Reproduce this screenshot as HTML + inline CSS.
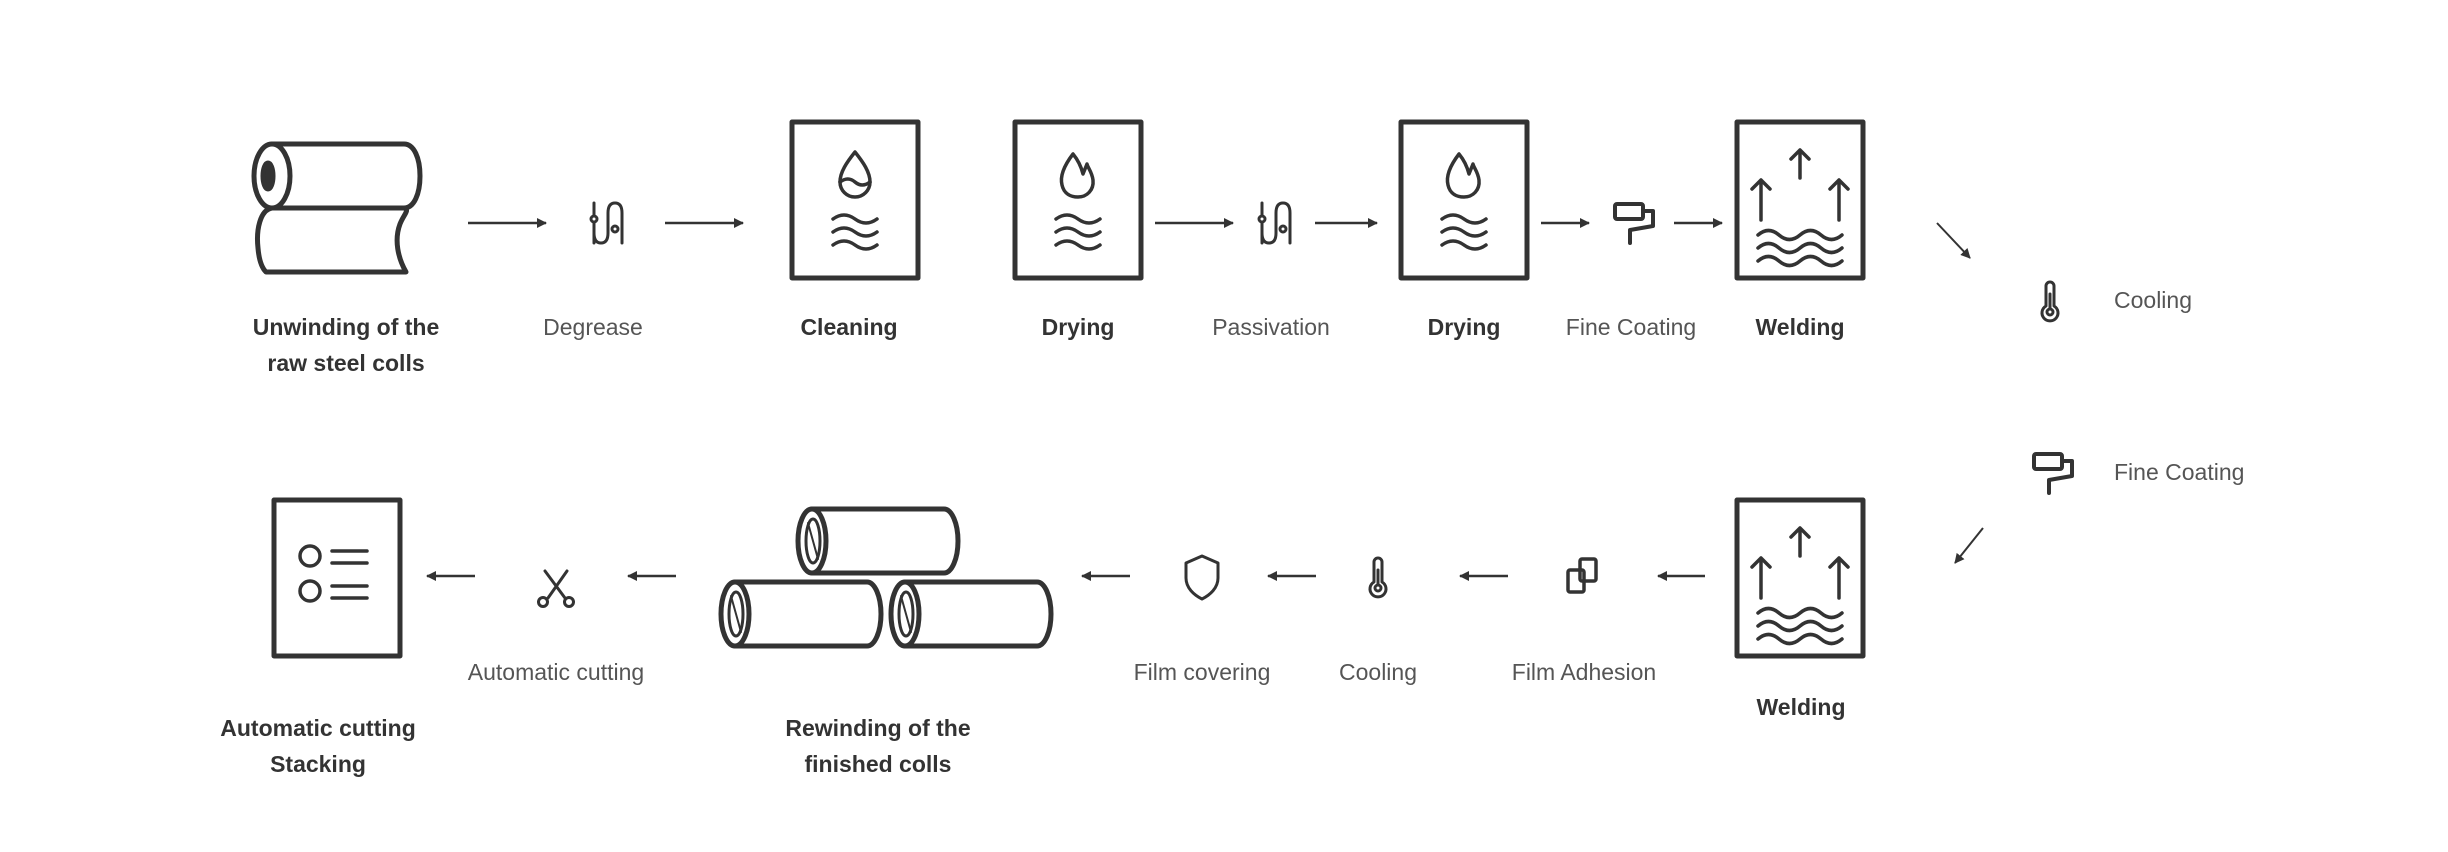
<!DOCTYPE html>
<html><head><meta charset="utf-8"><style>
html,body{margin:0;padding:0;background:#fff;}
svg{display:block;}
text{font-family:"Liberation Sans",sans-serif;font-size:23px;fill:#3a3a3a;text-anchor:middle;}
.b{font-weight:bold;fill:#333;}
.l{fill:#555;}
.s{stroke:#333;fill:none;stroke-linecap:round;stroke-linejoin:round;}
</style></head><body>
<svg width="2448" height="852" viewBox="0 0 2448 852" xmlns="http://www.w3.org/2000/svg">
<defs>
<marker id="ah" markerWidth="10" markerHeight="10" refX="9" refY="5" orient="auto" markerUnits="userSpaceOnUse">
<path d="M0,0 L10,5 L0,10 Z" fill="#333"/></marker>
<g id="waves3" class="s" stroke-width="3.5">
<path d="M-22,0 q11,-8 22,0 t22,0"/><path d="M-22,13 q11,-8 22,0 t22,0"/><path d="M-22,26 q11,-8 22,0 t22,0"/>
</g>
<g id="weld">
<rect x="0" y="0" width="126" height="156" class="s" stroke-width="5"/>
<g class="s" stroke-width="3.5">
<path d="M63,56 V28 M54,37 L63,28 L72,37"/>
<path d="M24,98 V58 M15,67 L24,58 L33,67"/>
<path d="M102,98 V58 M93,67 L102,58 L111,67"/>
<path d="M21,113 q10.5,-9 21,0 t21,0 t21,0 t21,0"/>
<path d="M21,126 q10.5,-9 21,0 t21,0 t21,0 t21,0"/>
<path d="M21,139 q10.5,-9 21,0 t21,0 t21,0 t21,0"/>
</g></g>
<g id="dry">
<rect x="0" y="0" width="126" height="156" class="s" stroke-width="5"/>
<path class="s" stroke-width="3.5" d="M58,32 C48,45 45,55 47,63 C49,72 56,75 63,75 C72,75 79,68 78,58 C77,50 73,46 72,42 L68,52 C66,44 63,38 58,32 Z"/>
<use href="#waves3" x="63" y="97"/>
</g>
<g id="therm" class="s" stroke-width="3">
<path d="M-4,-14 a4,4 0 0 1 8,0 V6 a8,8 0 1 1 -8,0 Z"/><circle cx="0" cy="12" r="3"/><path d="M0,-6 V9"/>
</g>
<g id="roller" class="s" stroke-width="4">
<rect x="-18" y="-19" width="28" height="15" rx="2"/>
<path d="M10,-12 H20 V3 L-3,7 V20"/>
</g>
<g id="pipe" class="s" stroke-width="3">
<path d="M-9,-20 V20"/><circle cx="-9" cy="-4" r="3" fill="#fff"/>
<path d="M-9,10 q0,10 7,10 q7,0 7,-10 V-10 q0,-10 7,-10 q7,0 7,10 V20"/>
<circle cx="12" cy="6" r="3" fill="#fff"/>
</g>
<g id="cyl" class="s" stroke-width="5">
<path d="M16,2 H148 A14,32 0 0 1 148,66 H16"/>
<ellipse cx="16" cy="34" rx="14" ry="32"/>
<ellipse cx="17" cy="34" rx="7" ry="22" stroke-width="3"/>
<path d="M12,16 L22,52" stroke-width="2"/>
</g>
</defs>

<g class="s" stroke-width="5">
<path d="M272,144 H404 C414,144 420,158 420,176 C420,194 414,208 404,208 H272"/>
<ellipse cx="272" cy="176" rx="18" ry="32"/>
<ellipse cx="268" cy="176" rx="5" ry="13" fill="#333"/>
<path d="M272,208 C260,210 256,230 258,248 C259,260 262,268 266,272 H406 C398,258 394,240 400,224 C404,214 410,210 404,208"/>
</g>
<line x1="468" y1="223" x2="546" y2="223" stroke="#333" stroke-width="2.5" marker-end="url(#ah)"/>
<use href="#pipe" x="603" y="223"/>
<line x1="665" y1="223" x2="743" y2="223" stroke="#333" stroke-width="2.5" marker-end="url(#ah)"/>
<g transform="translate(792,122)">
<rect x="0" y="0" width="126" height="156" class="s" stroke-width="5"/>
<path class="s" stroke-width="3.5" d="M63,30 C55,40 48,50 48,60 A15,15 0 0 0 78,60 C78,50 71,40 63,30 Z"/>
<path class="s" stroke-width="3.5" d="M48,60 q8,-6 15,0 t15,0"/>
<use href="#waves3" x="63" y="97"/>
</g>
<use href="#dry" x="1015" y="122"/>
<line x1="1155" y1="223" x2="1233" y2="223" stroke="#333" stroke-width="2.5" marker-end="url(#ah)"/>
<use href="#pipe" x="1271" y="223"/>
<line x1="1315" y1="223" x2="1377" y2="223" stroke="#333" stroke-width="2.5" marker-end="url(#ah)"/>
<use href="#dry" x="1401" y="122"/>
<line x1="1541" y1="223" x2="1589" y2="223" stroke="#333" stroke-width="2.5" marker-end="url(#ah)"/>
<use href="#roller" x="1633" y="223"/>
<line x1="1674" y1="223" x2="1722" y2="223" stroke="#333" stroke-width="2.5" marker-end="url(#ah)"/>
<use href="#weld" x="1737" y="122"/>

<text x="346" y="335" class="b">Unwinding of the</text>
<text x="346" y="371" class="b">raw steel colls</text>
<text x="593" y="335" class="l">Degrease</text>
<text x="849" y="335" class="b">Cleaning</text>
<text x="1078" y="335" class="b">Drying</text>
<text x="1271" y="335" class="l">Passivation</text>
<text x="1464" y="335" class="b">Drying</text>
<text x="1631" y="335" class="l">Fine Coating</text>
<text x="1800" y="335" class="b">Welding</text>

<line x1="1937" y1="223" x2="1970" y2="258" stroke="#333" stroke-width="2" marker-end="url(#ah)"/>
<use href="#therm" x="2050" y="300"/>
<text x="2114" y="308" class="l" style="text-anchor:start">Cooling</text>
<use href="#roller" x="2052" y="473"/>
<text x="2114" y="480" class="l" style="text-anchor:start">Fine Coating</text>
<line x1="1983" y1="528" x2="1955" y2="563" stroke="#333" stroke-width="2" marker-end="url(#ah)"/>

<use href="#weld" x="1737" y="500"/>
<text x="1801" y="715" class="b">Welding</text>
<line x1="1705" y1="576" x2="1658" y2="576" stroke="#333" stroke-width="2.5" marker-end="url(#ah)"/>
<g class="s" stroke-width="3.5">
<rect x="1568" y="570" width="16" height="22" rx="2"/>
<rect x="1580" y="559" width="16" height="22" rx="2"/>
</g>
<text x="1584" y="680" class="l">Film Adhesion</text>
<line x1="1508" y1="576" x2="1460" y2="576" stroke="#333" stroke-width="2.5" marker-end="url(#ah)"/>
<use href="#therm" x="1378" y="576"/>
<text x="1378" y="680" class="l">Cooling</text>
<line x1="1316" y1="576" x2="1268" y2="576" stroke="#333" stroke-width="2.5" marker-end="url(#ah)"/>
<path class="s" stroke-width="3" d="M1202,556 L1218,563 V578 C1218,588 1210,595 1202,599 C1194,595 1186,588 1186,578 V563 Z"/>
<text x="1202" y="680" class="l">Film covering</text>
<line x1="1130" y1="576" x2="1082" y2="576" stroke="#333" stroke-width="2.5" marker-end="url(#ah)"/>

<use href="#cyl" x="796" y="507"/>
<use href="#cyl" x="719" y="580"/>
<use href="#cyl" x="889" y="580"/>
<text x="878" y="736" class="b">Rewinding of the</text>
<text x="878" y="772" class="b">finished colls</text>

<line x1="676" y1="576" x2="628" y2="576" stroke="#333" stroke-width="2.5" marker-end="url(#ah)"/>
<g class="s" stroke-width="3">
<path d="M545,571 L565,598 M567,571 L548,598"/>
<circle cx="543" cy="602" r="4.5"/><circle cx="569" cy="602" r="4.5"/>
</g>
<text x="556" y="680" class="l">Automatic cutting</text>
<line x1="475" y1="576" x2="427" y2="576" stroke="#333" stroke-width="2.5" marker-end="url(#ah)"/>

<g transform="translate(274,500)">
<rect x="0" y="0" width="126" height="156" class="s" stroke-width="5"/>
<g class="s" stroke-width="3.5">
<circle cx="36" cy="56" r="10"/><circle cx="36" cy="91" r="10"/>
<path d="M58,51 H93 M58,63 H93 M58,86 H93 M58,98 H93"/>
</g></g>
<text x="318" y="736" class="b">Automatic cutting</text>
<text x="318" y="772" class="b">Stacking</text>
</svg>
</body></html>
